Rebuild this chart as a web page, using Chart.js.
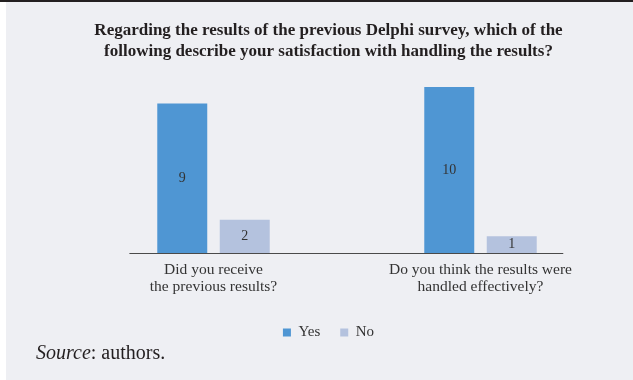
<!DOCTYPE html>
<html>
<head>
<meta charset="utf-8">
<script src="https://cdn.jsdelivr.net/npm/chart.js@4"></script>
<style>
  html, body { margin: 0; padding: 0; background: #ffffff; }
  #frame { position: absolute; left: 0; top: 0; width: 633px; height: 380px; overflow: hidden; }
  #topband { position: absolute; left: 0; top: 0; width: 633px; height: 2px; background: #231f20; }
  #panel { position: absolute; left: 6px; top: 2px; width: 627px; height: 378px; background: #eeeff3; }
  #wrap { position: absolute; left: 0; top: 0; width: 633px; height: 380px; }
  #source { position: absolute; left: 36px; top: 339px; font-family: 'Liberation Serif', 'Times New Roman', 'DejaVu Serif', serif; font-size: 20px; color: #231f20; line-height: 26px; white-space: nowrap; }
</style>
</head>
<body>
<div id="frame">
  <div id="topband"></div>
  <div id="panel"></div>
  <div id="wrap"><canvas id="c" width="633" height="380"></canvas></div>
  <div id="source"><i>Source</i>: authors.</div>
</div>
<script>
const titleLines = [
  "Regarding the results of the previous Delphi survey, which of the",
  "following describe your satisfaction with handling the results?"
];
const categories = [
  ["Did you receive", "the previous results?"],
  ["Do you think the results were", "handled effectively?"]
];
const seriesNames = ["Yes", "No"];
const yesValues = [9, 10];
const noValues = [2, 1];
const yesColor = "#4f96d3";
const noColor = "#b4c2de";
const serif = "'Liberation Serif', 'DejaVu Serif', serif";

const valueLabels = {
  id: "valueLabels",
  afterDatasetsDraw(chart) {
    const ctx = chart.ctx;
    ctx.save();
    ctx.font = "14px " + serif;
    ctx.fillStyle = "#333333";
    ctx.textAlign = "center";
    ctx.textBaseline = "middle";
    chart.data.datasets.forEach((ds, di) => {
      const meta = chart.getDatasetMeta(di);
      meta.data.forEach((bar, i) => {
        const v = ds.data[i];
        ctx.fillText(String(v), bar.x, (bar.y + bar.base) / 2);
      });
    });
    ctx.restore();
  }
};

const baseLine = {
  id: "baseLine",
  afterDatasetsDraw(chart) {
    const xs = chart.scales.x, ys = chart.scales.y;
    const n = chart.data.labels.length;
    const w = (xs.right - xs.left) / n;
    const x0 = xs.getPixelForValue(0) - 0.315 * w;
    const x1 = xs.getPixelForValue(n - 1) + 0.31 * w;
    const y = Math.round(ys.getPixelForValue(0)) + 0.5;
    const ctx = chart.ctx;
    ctx.save();
    ctx.strokeStyle = "#4a4a4a";
    ctx.lineWidth = 1;
    ctx.beginPath();
    ctx.moveTo(x0, y);
    ctx.lineTo(x1, y);
    ctx.stroke();
    ctx.restore();
  }
};

new Chart(document.getElementById("c"), {
  type: "bar",
  data: {
    labels: categories,
    datasets: [
      { label: seriesNames[0], data: yesValues, backgroundColor: yesColor, borderWidth: 0 },
      { label: seriesNames[1], data: noValues, backgroundColor: noColor, borderWidth: 0 }
    ]
  },
  plugins: [valueLabels, baseLine],
  options: {
    responsive: false,
    animation: false,
    devicePixelRatio: 1,
    layout: { padding: { left: 24, right: 0, top: 0, bottom: 30 } },
    datasets: { bar: { categoryPercentage: 0.468, barPercentage: 0.8 } },
    scales: {
      x: {
        grid: { display: false, drawTicks: false },
        border: { display: false },
        ticks: { color: "#333333", font: { family: serif, size: 15.5, lineHeight: 1.1 }, padding: 8, maxRotation: 0, autoSkip: false },
        afterFit(scale) { scale.height += 2; }
      },
      y: {
        min: 0, max: 10,
        grid: { display: false, drawTicks: false },
        border: { display: false },
        ticks: { display: false },
        afterFit(scale) { scale.width = 56; }
      },
      y2: {
        position: "right",
        min: 0, max: 10,
        grid: { display: false, drawTicks: false },
        border: { display: false },
        ticks: { display: false },
        afterFit(scale) { scale.width = 19; }
      }
    },
    plugins: {
      tooltip: { enabled: false },
      title: {
        display: true,
        text: titleLines,
        color: "#231f20",
        font: { family: serif, size: 17, weight: "bold", lineHeight: 1.235 },
        padding: { top: 20, bottom: 25 }
      },
      legend: {
        position: "bottom",
        labels: {
          boxWidth: 8, boxHeight: 8, padding: 20,
          color: "#333333",
          font: { family: serif, size: 15 }
        }
      }
    }
  }
});
</script>
</body>
</html>
